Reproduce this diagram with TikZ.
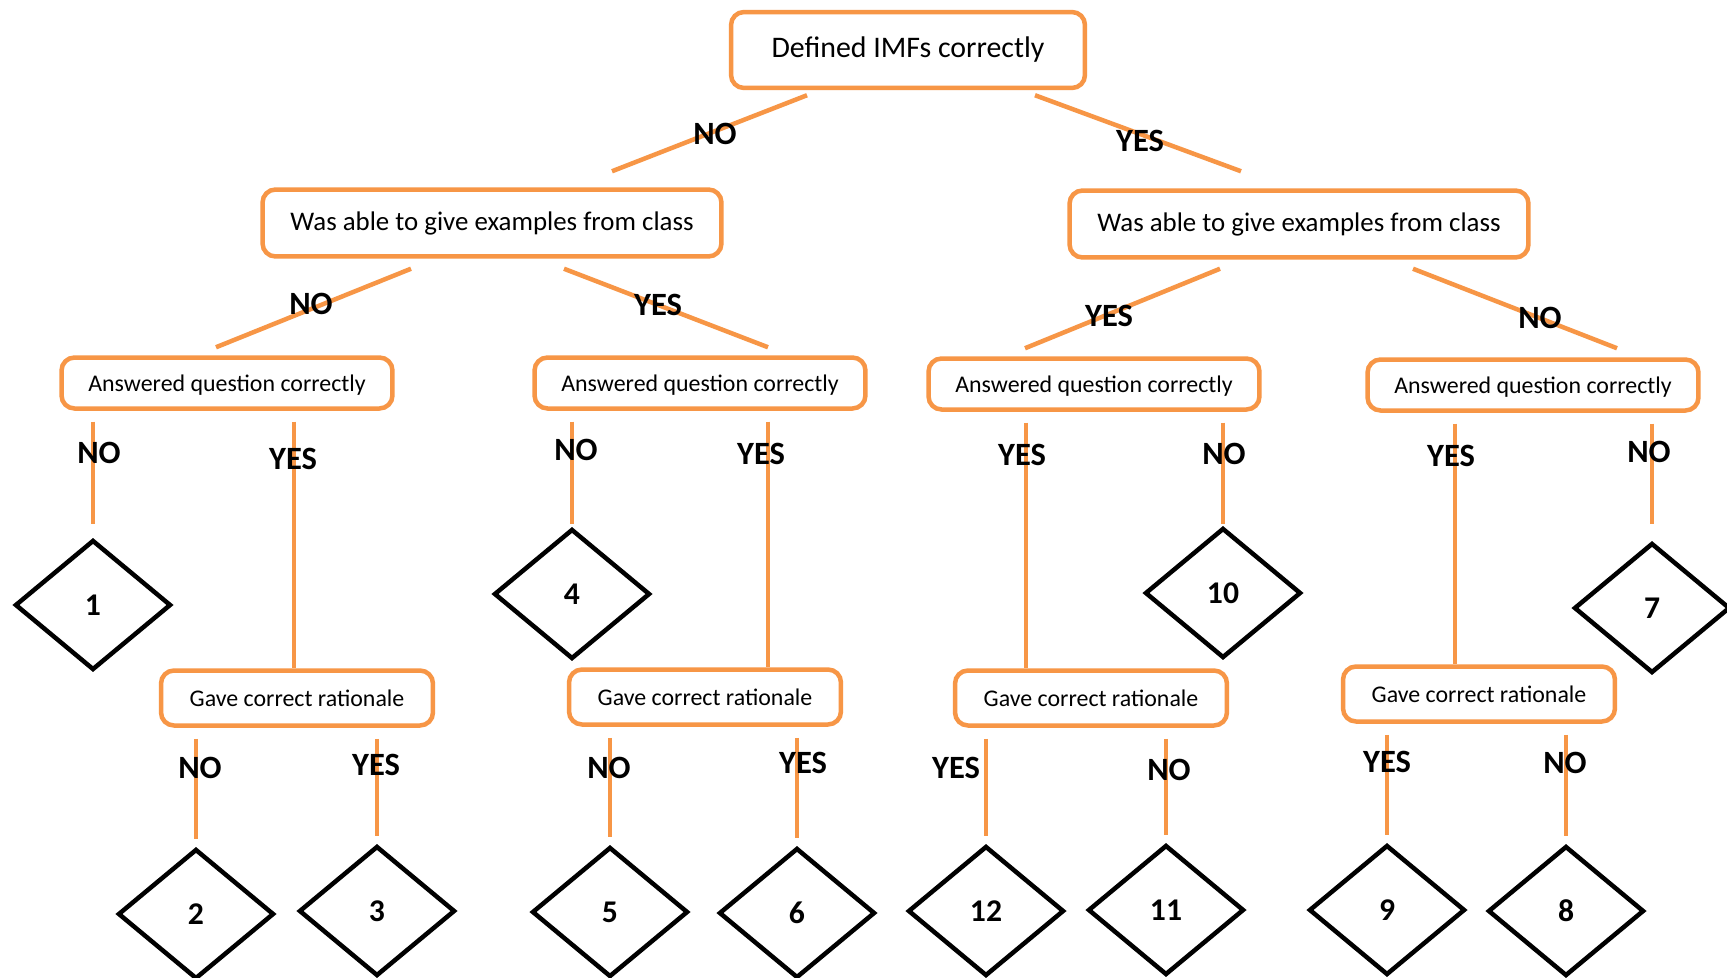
\documentclass[tikz,border=0pt]{standalone}
\usepackage{fontspec}
\setmainfont{Carlito}
\usetikzlibrary{shapes.geometric,calc}
\definecolor{Tangerine}{HTML}{F79646}
\begin{document}
\begin{tikzpicture}[x=.02cm,y=-.02cm,line width=.09cm,box/.style={draw=Tangerine,fill=white,rounded corners=.26cm,inner sep=0pt},topbox/.style={box,font=\fontsize{17}{20}\selectfont},exbox/.style={box,minimum width=9.18cm,minimum height=1.34cm,font=\fontsize{15.3}{18}\selectfont},qbox/.style={box,minimum width=6.62cm,minimum height=1.02cm,text depth=0pt,font=\fontsize{13.6}{16}\selectfont},rbox/.style={box,minimum width=5.44cm,minimum height=1.1cm,font=\fontsize{13.6}{16}\selectfont},leaf/.style={diamond,draw,fill=white,inner sep=0pt,minimum width=3.12cm,minimum height=2.6cm,font=\fontsize{18}{20}\selectfont\bfseries},link/.style={draw=Tangerine},stem/.style={link,shorten <=.22cm},tag/.style={inner sep=0pt,font=\fontsize{18.5}{21}\selectfont\bfseries}]
\useasboundingbox(0,0)rectangle(1727,977);\fill[white](0,0)rectangle(1727,977);
\node[topbox,minimum width=7.08cm,minimum height=1.52cm](top)at(908,50){Defined IMFs correctly};
\node[exbox](exL)at(492,223){Was able to give examples from class};\node[exbox](exR)at(1299,224){Was able to give examples from class};
\node[qbox](q1)at(227,383){Answered question correctly};\node[qbox](q2)at(700,383){Answered question correctly};\node[qbox](q3)at(1094,384){Answered question correctly};\node[qbox](q4)at(1533,385){Answered question correctly};
\node[rbox](r1)at(297,698){Gave correct rationale};\node[rbox](r2)at(705,697){Gave correct rationale};\node[rbox](r3)at(1091,698){Gave correct rationale};\node[rbox](r4)at(1479,694){Gave correct rationale};
\foreach \n/\x/\y in {1/93/605,4/572/594,10/1223/593,7/1652/608,2/196/914,3/377/911,5/610/912,6/797/913,12/986/911,11/1166/910,9/1387/910,8/1566/911}{\node[leaf](d\n)at(\x,\y){\n};}
\draw[link]($(top.south)+(-101,5)$)--($(exL.north)+(120,-16)$);\draw[link]($(top.south)+(127,5)$)--($(exR.north)+(-58,-17)$);
\draw[link]($(exL.south)+(-81,10)$)--($(q1.north)+(-11,-8)$);\draw[link]($(exL.south)+(72,10)$)--($(q2.north)+(68,-8)$);
\draw[link]($(exR.south)+(-79,9)$)--($(q3.north)+(-69,-8)$);\draw[link]($(exR.south)+(114,9)$)--($(q4.north)+(84,-9)$);
\foreach \a/\k in {q1/1,q2/4,q3/10,q4/7}{\draw[stem](\a.south-|d\k)--(d\k|-0,524);}
\foreach \a/\b/\x in {q1/r1/294,q2/r2/768,q3/r3/1026,q4/r4/1455}{\draw[stem](\a.south-|\x,0)--(\b.north-|\x,0);}
\foreach \a/\k in {r1/2,r1/3,r2/5,r2/6,r3/12,r3/11,r4/9,r4/8}{\draw[stem,shorten >=.16cm](\a.south-|d\k)--(d\k.north);}
\foreach \i/\t/\x/\y in {1/NO/715/134,2/YES/1140/141,3/NO/311/304,4/YES/658/305,5/YES/1109/316,6/NO/1540/318,7/NO/99/453,8/YES/293/459,9/NO/576/450,10/YES/761/454,11/YES/1022/455,12/NO/1224/454,13/YES/1451/456,14/NO/1649/452,15/NO/200/768,16/YES/376/765,17/NO/609/768,18/YES/803/763,19/YES/956/768,20/NO/1169/770,21/YES/1387/762,22/NO/1565/763}{\node[tag](t\i)at(\x,\y){\t};}
\end{tikzpicture}
\end{document}
